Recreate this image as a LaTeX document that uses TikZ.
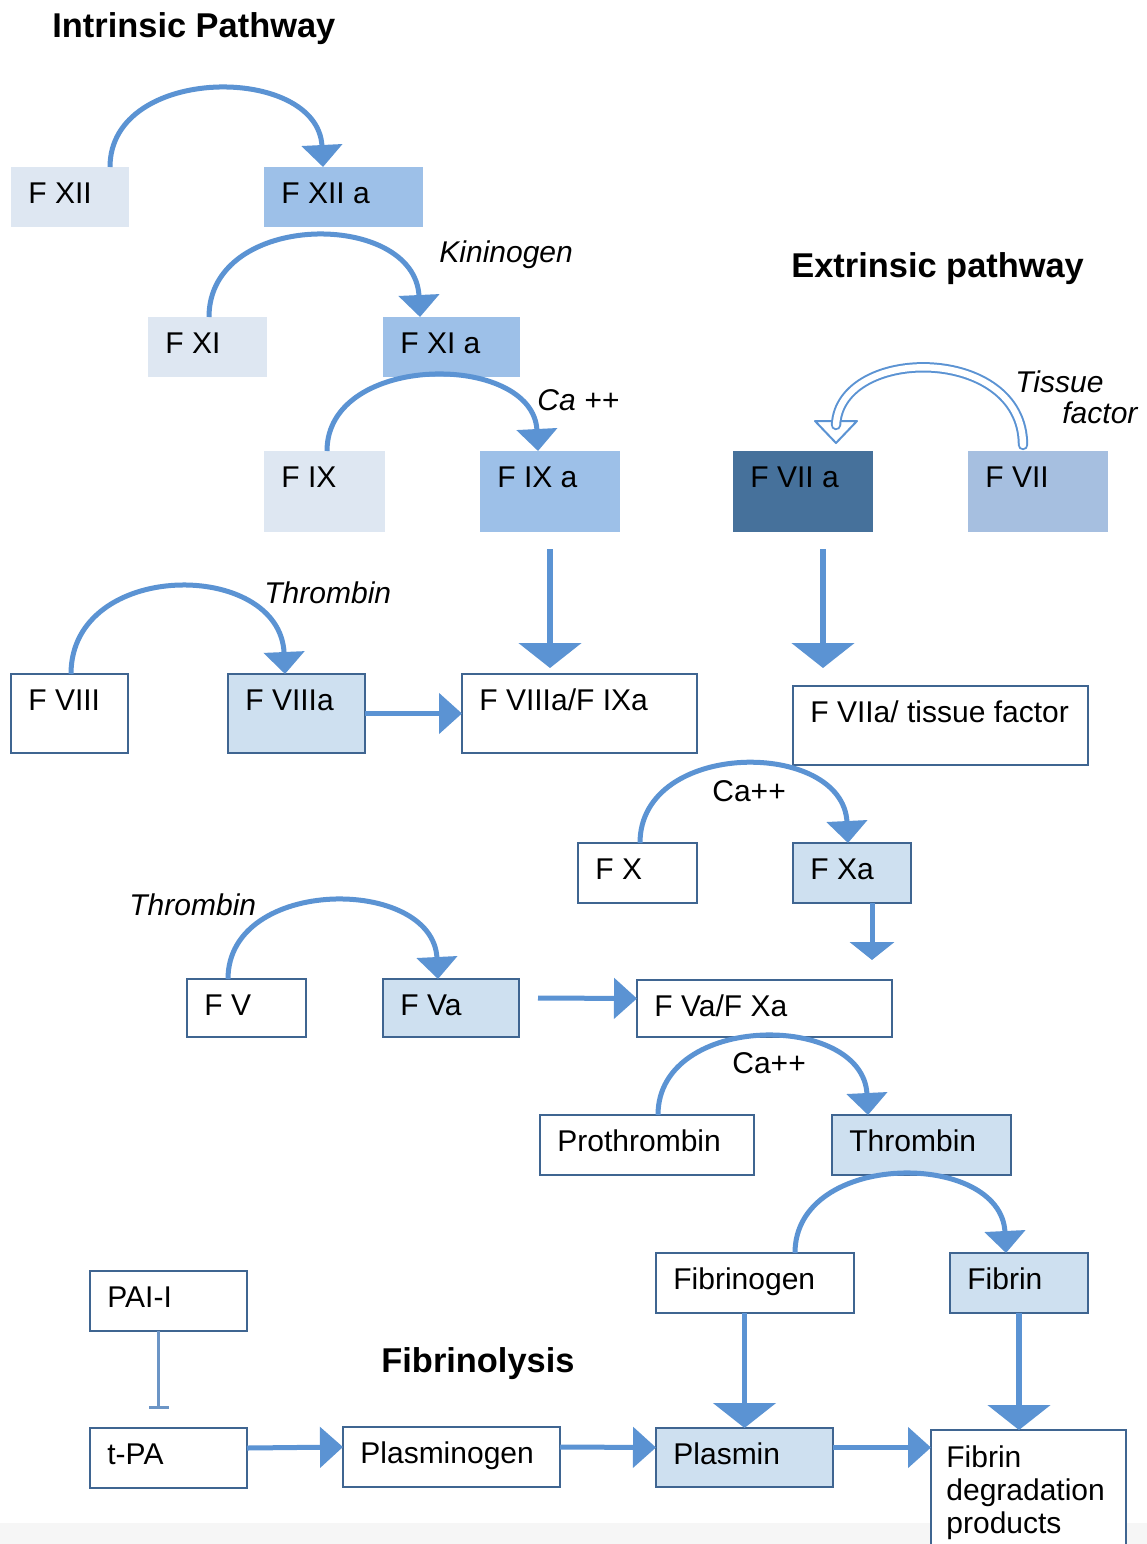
\documentclass[tikz,border=0pt]{standalone}
\usepackage{fontspec}
\setmainfont{Liberation Sans}
\usetikzlibrary{arrows.meta}
\definecolor{arr}{HTML}{5B93D3}
\definecolor{bord}{HTML}{3F6591}
\definecolor{lightA}{HTML}{DEE7F2}
\definecolor{medA}{HTML}{9DC0E8}
\definecolor{darkA}{HTML}{46719B}
\definecolor{fviicol}{HTML}{A6BFE0}
\definecolor{lightB}{HTML}{CEE0F0}
\definecolor{inh}{HTML}{6C95C6}
\definecolor{band}{HTML}{F6F6F6}
\tikzset{
  lbl/.style={font=\fontsize{15}{18}\selectfont, anchor=base west, inner sep=0pt, text=black},
  ital/.style={lbl, font=\fontsize{15}{18}\selectfont\itshape},
  ttl/.style={font=\bfseries\fontsize{17.2}{20}\selectfont, anchor=base west, inner sep=0pt, text=black},
  boxbase/.style={rectangle, inner sep=0pt, outer sep=0pt},
  boxA/.style={boxbase, fill=lightA},
  boxM/.style={boxbase, fill=medA},
  boxD/.style={boxbase, fill=darkA},
  boxS/.style={boxbase, fill=fviicol},
  wbox/.style={boxbase, draw=bord, line width=1pt, fill=white},
  bbox/.style={boxbase, draw=bord, line width=1pt, fill=lightB},
  arcarrow/.style={draw=arr, line width=2.5pt, -{Triangle[width=20pt,length=11pt]}},
  bigdown/.style={draw=arr, line width=2.8pt, -{Triangle[width=31pt,length=12.5pt]}},
  hor/.style={draw=arr, line width=2.5pt, -{Triangle[width=20pt,length=11.5pt]}},
  smalldown/.style={draw=arr, line width=2.5pt, -{Triangle[width=22pt,length=9pt]}},
  hollow/.style={draw=arr, line width=1pt, double=white, double distance=3.2pt, line cap=round},
  inhib/.style={draw=inh, line width=1.5pt, -{Bar[width=10pt,line width=1.5pt]}}
}
% #1 name, #2 style, #3 x1, #4 y1, #5 x2, #6 y2, #7 text
\newcommand\mybox[7]{%
  \node[#2, minimum width={(#5-#3)*0.5pt}, minimum height={(#6-#4)*0.5pt}] (#1) at ({(#3+#5)/2},{(#4+#6)/2}) {};
  \node[lbl] (#1t) at ([shift={(17,36)}]#1.north west) {#7};}
\begin{document}
\begin{tikzpicture}[x=0.5pt,y=-0.5pt]
\useasboundingbox (0,0) rectangle (1147,1544);
\fill[white] (0,0) rectangle (1147,1544);
\fill[band] (0,1523) rectangle (1147,1544);

% titles
\node[ttl] (tint) at (52,37) {Intrinsic Pathway};
\node[ttl] (text) at (791,277) {Extrinsic pathway};
\node[ttl] (tfib) at (381,1372) {Fibrinolysis};

% intrinsic boxes
\mybox{fxii}{boxA}{11}{167}{129}{227}{F XII}
\mybox{fxiia}{boxM}{264}{167}{423}{227}{F XII a}
\mybox{fxi}{boxA}{148}{317}{267}{377}{F XI}
\mybox{fxia}{boxM}{383}{317}{520}{377}{F XI a}
\mybox{fix}{boxA}{264}{451}{385}{532}{F IX}
\mybox{fixa}{boxM}{480}{451}{620}{532}{F IX a}

% extrinsic boxes
\mybox{fviia}{boxD}{733}{451}{873}{532}{F VII a}
\mybox{fvii}{boxS}{968}{451}{1108}{532}{F VII}

% common
\mybox{fviii}{wbox}{11}{674}{128}{753}{F VIII}
\mybox{fviiia}{bbox}{228}{674}{365}{753}{F VIIIa}
\mybox{fviiifixa}{wbox}{462}{674}{697}{753}{F VIIIa/F IXa}
\mybox{ftf}{wbox}{793}{686}{1088}{765}{F VIIa/ tissue factor}
\mybox{fx}{wbox}{578}{843}{697}{903}{F X}
\mybox{fxa}{bbox}{793}{843}{911}{903}{F Xa}
\mybox{fv}{wbox}{187}{979}{306}{1037}{F V}
\mybox{fva}{bbox}{383}{979}{519}{1037}{F Va}
\mybox{fvafxa}{wbox}{637}{980}{892}{1037}{F Va/F Xa}
\mybox{prothr}{wbox}{540}{1115}{754}{1175}{Prothrombin}
\mybox{thromb}{bbox}{832}{1115}{1011}{1175}{Thrombin}
\mybox{fibgen}{wbox}{656}{1253}{854}{1313}{Fibrinogen}
\mybox{fibrin}{bbox}{950}{1253}{1088}{1313}{Fibrin}

% fibrinolysis
\mybox{paii}{wbox}{90}{1271}{247}{1331}{PAI-I}
\mybox{tpa}{wbox}{90}{1428}{247}{1488}{t-PA}
\mybox{plgen}{wbox}{343}{1427}{560}{1487}{Plasminogen}
\mybox{plasmin}{bbox}{656}{1428}{833}{1487}{Plasmin}
\node[wbox, minimum width={195*0.5pt}, minimum height={120*0.5pt}, anchor=north west] (fdp) at (931,1430) {};
\node[lbl] (fdpt1) at (946,1467) {Fibrin};
\node[lbl] (fdpt2) at (946,1500) {degradation};
\node[lbl] (fdpt3) at (946,1533) {products};

% labels
\node[ital] (kin) at (439,262) {Kininogen};
\node[ital] (ca1) at (537,410) {Ca ++};
\node[ital] (tis1) at (1015,392) {Tissue};
\node[ital] (tis2) at (1062,423) {factor};
\node[ital] (thr1) at (264,603) {Thrombin};
\node[ital] (thr2) at (129,915) {Thrombin};
\node[lbl] (ca2) at (712,801) {Ca++};
\node[lbl] (ca3) at (732,1073) {Ca++};

% arc arrows
\draw[arcarrow] ([shift={(99,0)}]fxii.north west) .. controls (110,64) and (318,64) .. ([shift={(59,0)}]fxiia.north west);
\draw[arcarrow] ([shift={(61,0)}]fxi.north west) .. controls (209,210) and (415,210) .. ([shift={(37,0)}]fxia.north west);
\draw[arcarrow] ([shift={(63,0)}]fix.north west) .. controls (327,352) and (533,352) .. ([shift={(58,0)}]fixa.north west);
\draw[arcarrow] ([shift={(60,0)}]fviii.north west) .. controls (71,559) and (280,559) .. ([shift={(57,0)}]fviiia.north west);
\draw[arcarrow] ([shift={(62,0)}]fx.north west) .. controls (640,739) and (843,739) .. ([shift={(55,0)}]fxa.north west);
\draw[arcarrow] ([shift={(41,0)}]fv.north west) .. controls (228,876) and (433,876) .. ([shift={(55,0)}]fva.north west);
\draw[arcarrow] ([shift={(118,0)}]prothr.north west) .. controls (658,1012) and (863,1012) .. ([shift={(36,0)}]thromb.north west);
\draw[arcarrow] ([shift={(139,0)}]fibgen.north west) .. controls (795,1150) and (1001,1150) .. ([shift={(56,0)}]fibrin.north west);

% hollow arrow F VII -> F VII a
\draw[draw=arr, fill=white, line width=1pt, line join=round]
  ([shift={(82,-30)}]fviia.north west) -- ([shift={(124,-30)}]fviia.north west)
  -- ([shift={(103,-8)}]fviia.north west) -- cycle;
\draw[hollow] ([shift={(55,-6)}]fvii.north west) .. controls (1023,345) and (840,345) .. ([shift={(103,-26)}]fviia.north west);

% straight arrows
\coordinate (c1) at (fixa.south |- fviiifixa.north);
\draw[bigdown] ([shift={(0,17)}]fixa.south) -- ([shift={(0,-6)}]c1);
\coordinate (c2a) at ([shift={(20,17)}]fviia.south);
\coordinate (c2) at (c2a |- ftf.north);
\draw[bigdown] (c2a) -- ([shift={(0,-18)}]c2);
\draw[hor] (fviiia.east) -- (fviiifixa.west);
\coordinate (c3a) at ([shift={(20,0)}]fxa.south);
\coordinate (c3) at (c3a |- fvafxa.north);
\draw[smalldown] (c3a) -- ([shift={(0,-20)}]c3);
\draw[hor] ([shift={(19,-10)}]fva.east) -- ([shift={(0,-10)}]fvafxa.west);
\draw[bigdown] (plasmin.north |- fibgen.south) -- (plasmin.north);
\draw[bigdown] (fibrin.south) -- (fibrin.south |- fdp.north);
\draw[hor] ([shift={(0,-10)}]tpa.east) -- ([shift={(0,-10)}]plgen.west);
\draw[hor] ([shift={(0,-10)}]plgen.east) -- ([shift={(0,-10)}]plasmin.west);
\coordinate (c4) at ([shift={(0,-10)}]plasmin.east);
\draw[hor] (c4) -- (c4 -| fdp.west);
\coordinate (c5) at ([shift={(-10,0)}]paii.south);
\draw[inhib] (c5) -- ++(0,78);
\end{tikzpicture}
\end{document}
